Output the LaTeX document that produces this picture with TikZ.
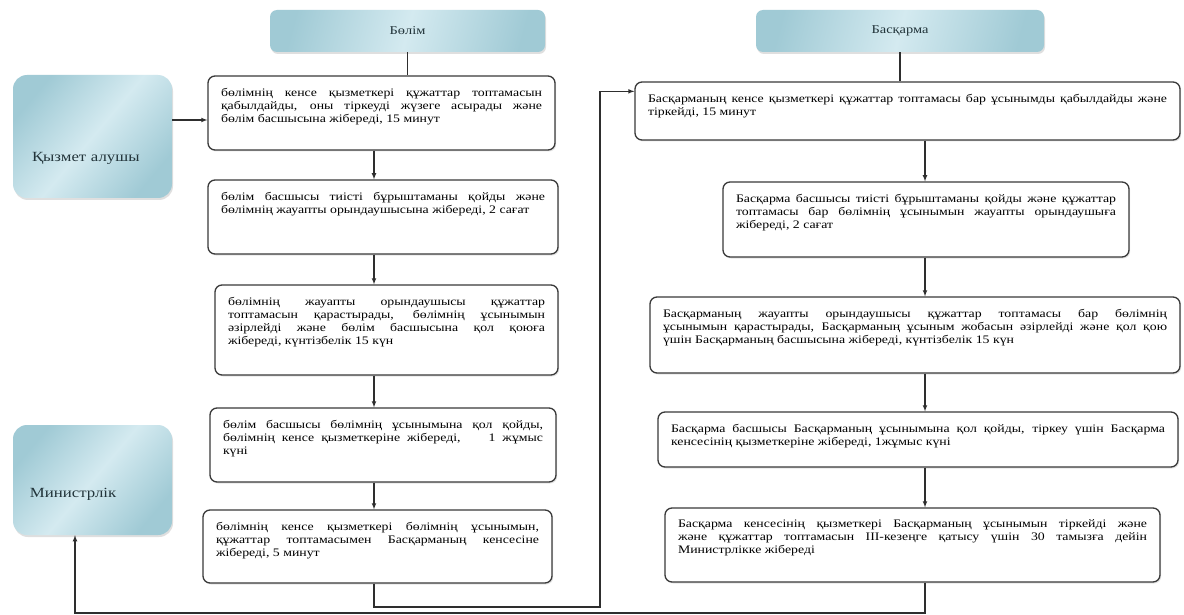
\documentclass[tikz,border=0pt]{standalone}
\usepackage{fontspec}
\setmainfont{Liberation Serif}[FakeStretch=1.2]
\usepackage{tikz}
\usetikzlibrary{arrows}
\usetikzlibrary{shadows}

\definecolor{tealdark}{HTML}{A0CAD5}
\definecolor{teallight}{HTML}{D4EAF0}
\definecolor{boxline}{HTML}{3A3A3A}
\definecolor{wire}{HTML}{2E2E2E}
\definecolor{slate}{HTML}{22343A}

\tikzset{
  hdr/.style={rounded corners=7pt, left color=tealdark, right color=tealdark,
    middle color=teallight, shading angle=75, inner sep=0pt, text=slate,
    drop shadow={opacity=0.25, shadow xshift=1pt, shadow yshift=-2pt},
    font=\fontsize{12}{14}\selectfont},
  actor/.style={hdr, rounded corners=14pt, shading angle=50, align=left,
    font=\fontsize{14}{16}\selectfont},
  stepbox/.style={draw=boxline, line width=1.3pt, rounded corners=7pt, fill=white,
    inner xsep=13pt, inner ysep=12pt, text=black,
    drop shadow={opacity=0.2, shadow xshift=1.2pt, shadow yshift=-1.5pt},
    font=\fontsize{11.5}{13}\selectfont},
  flow/.style={draw=wire, line width=1.1pt, -latex},
  link/.style={draw=wire, line width=1.1pt}
}

% text of a step box: width, height, text
\newcommand{\steptext}[3]{\parbox[c][#2][t]{#1}{\tolerance=10000 #3}}

\begin{document}
\begin{tikzpicture}[x=1pt,y=-1pt]
  \useasboundingbox (0,0) rectangle (1184,615);
  \fill[white] (0,0) rectangle (1184,615);

  % headers
  \node[hdr, minimum width=275pt, minimum height=42pt] (hdrL) at (407.5,31) {Бөлім};
  \node[hdr, minimum width=288pt, minimum height=42pt] (hdrR) at (900,31) {Басқарма};

  % actors
  \node[actor, minimum width=159pt, minimum height=123pt, inner xsep=19pt,
        text width=121pt, text height=87pt, text depth=36pt] (client) at (92.5,136.5) {Қызмет алушы};
  \node[actor, minimum width=159pt, minimum height=110pt, inner xsep=17pt,
        text width=125pt, text height=72pt, text depth=38pt] (ministry) at (92.5,480) {Министрлік};

  % left column
  \node[stepbox] (b1) at (381.5,113) {\steptext{321pt}{50pt}{бөлімнің кенсе қызметкері құжаттар топтамасын \linebreak қабылдайды, оны тіркеуді жүзеге асырады және \linebreak бөлім басшысына жібереді, 15 минут}};
  \node[stepbox] (b2) at (383,217) {\steptext{324pt}{50pt}{бөлім басшысы тиісті бұрыштаманы қойды және \linebreak бөлімнің жауапты орындаушысына жібереді, 2 сағат}};
  \node[stepbox] (b3) at (386.5,330) {\steptext{317pt}{66pt}{бөлімнің жауапты орындаушысы құжаттар \linebreak топтамасын қарастырады, бөлімнің ұсынымын \linebreak әзірлейді және бөлім басшысына қол қоюға \linebreak жібереді, күнтізбелік 15 күн}};
  \node[stepbox] (b4) at (383,445) {\steptext{320pt}{50pt}{бөлім басшысы бөлімнің ұсынымына қол қойды, \linebreak бөлімнің кенсе қызметкеріне жібереді,\ \ \ \ 1 жұмыс \linebreak күні}};
  \node[stepbox] (b5) at (377.5,546.5) {\steptext{323pt}{49pt}{бөлімнің кенсе қызметкері бөлімнің ұсынымын, \linebreak құжаттар топтамасымен Басқарманың кенсесіне \linebreak жібереді, 5 минут}};

  % right column
  \node[stepbox] (r1) at (907.5,111) {\steptext{519pt}{34pt}{Басқарманың кенсе қызметкері құжаттар топтамасы бар ұсынымды қабылдайды және \linebreak тіркейді, 15 минут}};
  \node[stepbox] (r2) at (926,219.5) {\steptext{380pt}{51pt}{Басқарма басшысы тиісті бұрыштаманы қойды және құжаттар \linebreak топтамасы бар бөлімнің ұсынымын жауапты орындаушыға \linebreak жібереді, 2 сағат}};
  \node[stepbox] (r3) at (915,335) {\steptext{504pt}{52pt}{Басқарманың жауапты орындаушысы құжаттар топтамасы бар бөлімнің \linebreak ұсынымын қарастырады, Басқарманың ұсыным жобасын әзірлейді және қол қою \linebreak үшін Басқарманың басшысына жібереді, күнтізбелік 15 күн}};
  \node[stepbox] (r4) at (918,439.5) {\steptext{494pt}{31pt}{Басқарма басшысы Басқарманың ұсынымына қол қойды, тіркеу үшін Басқарма \linebreak кенсесінің қызметкеріне жібереді, 1жұмыс күні}};
  \node[stepbox] (r5) at (912.5,545) {\steptext{469pt}{50pt}{Басқарма кенсесінің қызметкері Басқарманың ұсынымын тіркейді және \linebreak және құжаттар топтамасын ІІІ-кезеңге қатысу үшін 30 тамызға дейін \linebreak Министрлікке жібереді}};

  % column lines and bends
  \coordinate (lcol) at (374,0);
  \coordinate (rcol) at (925,0);
  \coordinate (bend1) at (600,607);
  \coordinate (bend2) at (75,613);
  \coordinate (c1) at ([yshift=16.5pt]client.east);
  \coordinate (r1in) at ([yshift=-10pt]r1.north west);

  % header lines
  \draw[link] (hdrL.south) -- (hdrL.south |- b1.north);
  \draw[link] (hdrR.south) -- (hdrR.south |- r1.north);

  % left flow
  \draw[flow] (c1) -- (c1 -| b1.west);
  \draw[flow] (b1.south -| lcol) -- (b2.north -| lcol);
  \draw[flow] (b2.south -| lcol) -- (b3.north -| lcol);
  \draw[flow] (b3.south -| lcol) -- (b4.north -| lcol);
  \draw[flow] (b4.south -| lcol) -- (b5.north -| lcol);

  % to Basqarma
  \draw[flow] (b5.south -| lcol) |- (bend1) |- (r1in);

  % right flow
  \draw[flow] (r1.south -| rcol) -- (r2.north -| rcol);
  \draw[flow] (r2.south -| rcol) -- (r3.north -| rcol);
  \draw[flow] (r3.south -| rcol) -- (r4.north -| rcol);
  \draw[flow] (r4.south -| rcol) -- (r5.north -| rcol);

  % to ministry
  \draw[flow] (r5.south -| rcol) |- (bend2) -- (ministry.south -| bend2);
\end{tikzpicture}
\end{document}
